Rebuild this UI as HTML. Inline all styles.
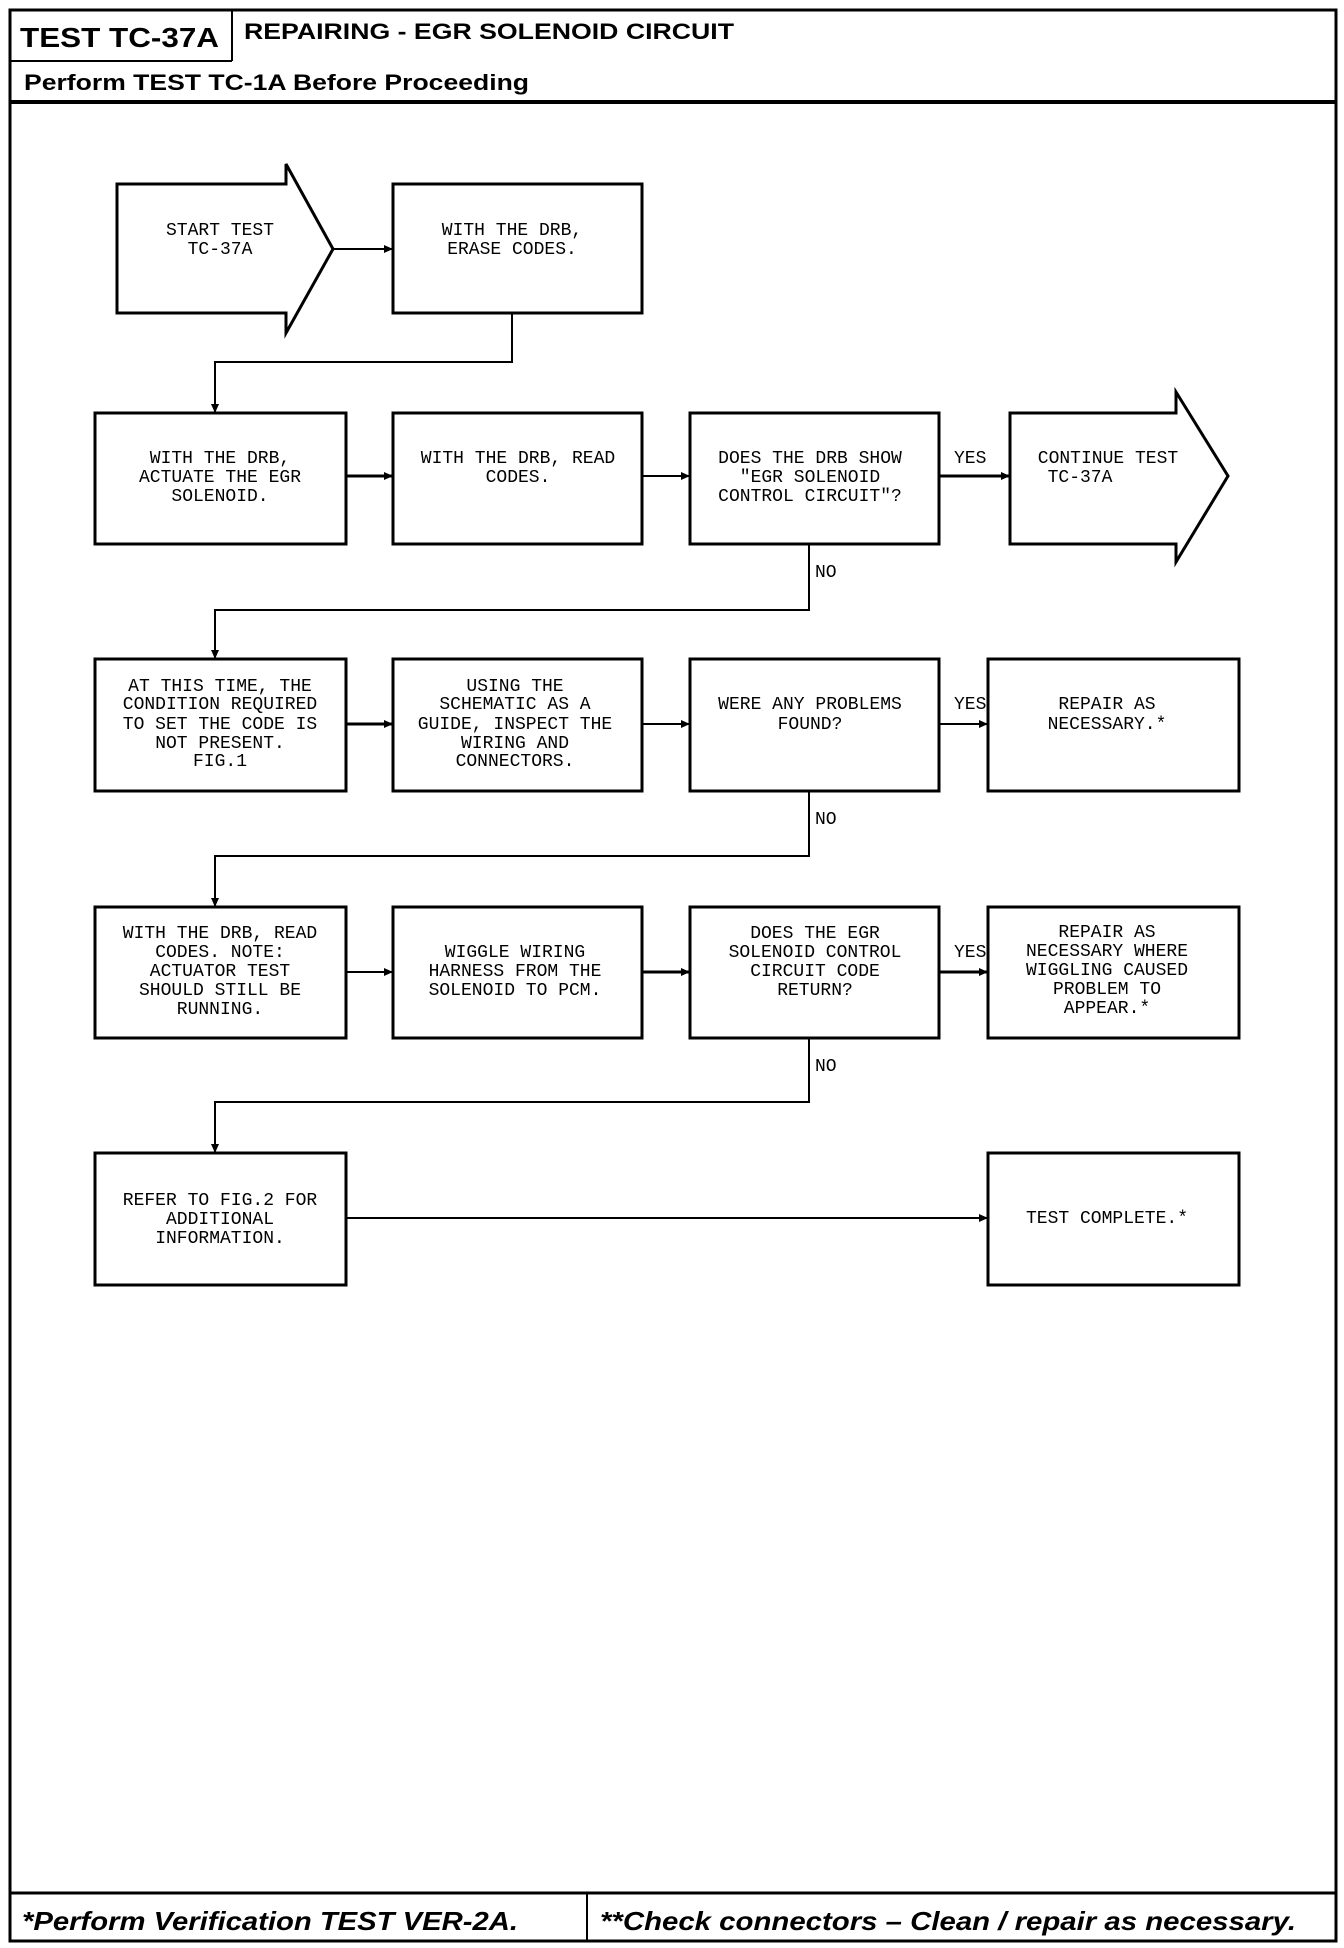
<!DOCTYPE html>
<html><head><meta charset="utf-8"><style>
html,body{margin:0;padding:0;background:#fff;}
svg{display:block}
.t{font-family:"Liberation Mono",monospace;font-size:18px;fill:#000;text-anchor:middle;dominant-baseline:middle}
.l{font-family:"Liberation Mono",monospace;font-size:18px;fill:#000;dominant-baseline:middle}
.h{font-family:"Liberation Sans",sans-serif;font-weight:bold;fill:#000}
</style></head><body>
<svg width="1344" height="1948" viewBox="0 0 1344 1948" xmlns="http://www.w3.org/2000/svg">
<defs><marker id="a" markerWidth="10" markerHeight="10" refX="9" refY="4" orient="auto" markerUnits="userSpaceOnUse"><path d="M0,0 L9,4 L0,8 z" fill="#000"/></marker></defs>
<g fill="none" stroke="#000" stroke-width="3">
<rect x="10" y="10" width="1326" height="1931"/>
<line x1="10" y1="61" x2="232" y2="61" stroke-width="2"/>
<line x1="232" y1="10" x2="232" y2="61" stroke-width="2"/>
<line x1="10" y1="102" x2="1336" y2="102" stroke-width="4"/>
<line x1="10" y1="1893" x2="1336" y2="1893" stroke-width="3"/>
<line x1="587" y1="1893" x2="587" y2="1941" stroke-width="2"/>
<path d="M117,184 H286 V164 L333,249 L286,333 V313 H117 Z"/>
<rect x="393" y="184" width="249" height="129"/>
<rect x="95" y="413" width="251" height="131"/>
<rect x="393" y="413" width="249" height="131"/>
<rect x="690" y="413" width="249" height="131"/>
<path d="M1010,413 H1176 V392 L1228,476 L1176,562 V544 H1010 Z"/>
<rect x="95" y="659" width="251" height="132"/>
<rect x="393" y="659" width="249" height="132"/>
<rect x="690" y="659" width="249" height="132"/>
<rect x="988" y="659" width="251" height="132"/>
<rect x="95" y="907" width="251" height="131"/>
<rect x="393" y="907" width="249" height="131"/>
<rect x="690" y="907" width="249" height="131"/>
<rect x="988" y="907" width="251" height="131"/>
<rect x="95" y="1153" width="251" height="132"/>
<rect x="988" y="1153" width="251" height="132"/>
</g>
<g fill="none" stroke="#000" stroke-width="2" marker-end="url(#a)">
<line x1="333" y1="249" x2="393" y2="249"/>
<path d="M512,313 V362 H215 V413"/>
<line x1="346" y1="476" x2="393" y2="476" stroke-width="3"/>
<line x1="642" y1="476" x2="690" y2="476"/>
<line x1="939" y1="476" x2="1010" y2="476" stroke-width="3"/>
<path d="M809,544 V610 H215 V659"/>
<line x1="346" y1="724" x2="393" y2="724" stroke-width="3"/>
<line x1="642" y1="724" x2="690" y2="724"/>
<line x1="939" y1="724" x2="988" y2="724"/>
<path d="M809,791 V856 H215 V907"/>
<line x1="346" y1="972" x2="393" y2="972"/>
<line x1="642" y1="972" x2="690" y2="972" stroke-width="3"/>
<line x1="939" y1="972" x2="988" y2="972" stroke-width="3"/>
<path d="M809,1038 V1102 H215 V1153"/>
<line x1="346" y1="1218" x2="988" y2="1218"/>
</g>
<text class="h" x="20" y="47" font-size="28" textLength="199" lengthAdjust="spacingAndGlyphs">TEST TC-37A</text>
<text class="h" x="244" y="39" font-size="22" textLength="490" lengthAdjust="spacingAndGlyphs">REPAIRING - EGR SOLENOID CIRCUIT</text>
<text class="h" x="24" y="90" font-size="22" textLength="505" lengthAdjust="spacingAndGlyphs">Perform TEST TC-1A Before Proceeding</text>
<text class="h" x="22" y="1930" font-size="26" font-style="italic" textLength="496" lengthAdjust="spacingAndGlyphs">*Perform Verification TEST VER-2A.</text>
<text class="h" x="600" y="1930" font-size="26" font-style="italic" textLength="696" lengthAdjust="spacingAndGlyphs">**Check connectors – Clean / repair as necessary.</text>
<g class="t">
<text x="220" y="230">START TEST</text><text x="220" y="249">TC-37A</text>
<text x="512" y="230">WITH THE DRB,</text><text x="512" y="249">ERASE CODES.</text>
<text x="220" y="458">WITH THE DRB,</text><text x="220" y="477">ACTUATE THE EGR</text><text x="220" y="496">SOLENOID.</text>
<text x="518" y="458">WITH THE DRB, READ</text><text x="518" y="477">CODES.</text>
<text x="810" y="458">DOES THE DRB SHOW</text><text x="810" y="477">"EGR SOLENOID</text><text x="810" y="496">CONTROL CIRCUIT"?</text>
<text x="1108" y="458">CONTINUE TEST</text><text x="1080" y="477">TC-37A</text>
<text x="220" y="686">AT THIS TIME, THE</text><text x="220" y="704">CONDITION REQUIRED</text><text x="220" y="724">TO SET THE CODE IS</text><text x="220" y="743">NOT PRESENT.</text><text x="220" y="761">FIG.1</text>
<text x="515" y="686">USING THE</text><text x="515" y="704">SCHEMATIC AS A</text><text x="515" y="724">GUIDE, INSPECT THE</text><text x="515" y="743">WIRING AND</text><text x="515" y="761">CONNECTORS.</text>
<text x="810" y="704">WERE ANY PROBLEMS</text><text x="810" y="724">FOUND?</text>
<text x="1107" y="704">REPAIR AS</text><text x="1107" y="724">NECESSARY.*</text>
<text x="220" y="933">WITH THE DRB, READ</text><text x="220" y="952">CODES. NOTE:</text><text x="220" y="971">ACTUATOR TEST</text><text x="220" y="990">SHOULD STILL BE</text><text x="220" y="1009">RUNNING.</text>
<text x="515" y="952">WIGGLE WIRING</text><text x="515" y="971">HARNESS FROM THE</text><text x="515" y="990">SOLENOID TO PCM.</text>
<text x="815" y="933">DOES THE EGR</text><text x="815" y="952">SOLENOID CONTROL</text><text x="815" y="971">CIRCUIT CODE</text><text x="815" y="990">RETURN?</text>
<text x="1107" y="932">REPAIR AS</text><text x="1107" y="951">NECESSARY WHERE</text><text x="1107" y="970">WIGGLING CAUSED</text><text x="1107" y="989">PROBLEM TO</text><text x="1107" y="1008">APPEAR.*</text>
<text x="220" y="1200">REFER TO FIG.2 FOR</text><text x="220" y="1219">ADDITIONAL</text><text x="220" y="1238">INFORMATION.</text>
<text x="1107" y="1218">TEST COMPLETE.*</text>
</g>
<g class="l">
<text x="954" y="458">YES</text>
<text x="815" y="572">NO</text>
<text x="954" y="704">YES</text>
<text x="815" y="819">NO</text>
<text x="954" y="952">YES</text>
<text x="815" y="1066">NO</text>
</g>
</svg>
</body></html>
